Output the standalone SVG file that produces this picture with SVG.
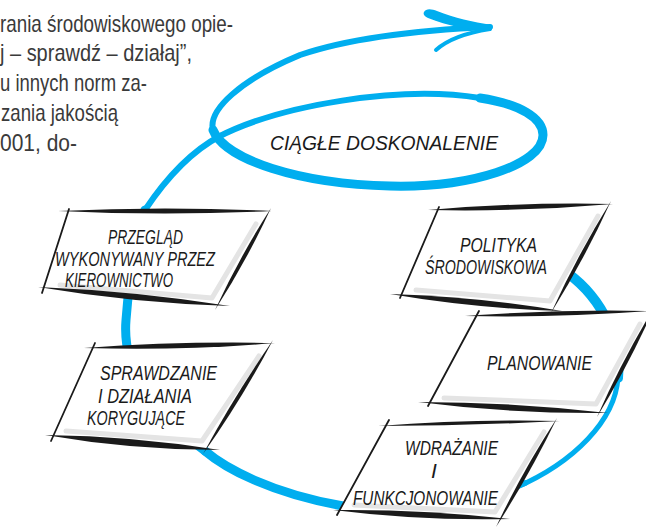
<svg xmlns="http://www.w3.org/2000/svg" width="646" height="527" viewBox="0 0 646 527">
<style>
.body{font-family:"Liberation Sans",Arial,sans-serif;font-size:24px;fill:#3a3a3a}
.lbl{font-family:"Liberation Sans",Arial,sans-serif;font-style:italic;font-size:21px;fill:#1a1a1a}
.blue{fill:none;stroke:#00aeef;stroke-linecap:round;stroke-linejoin:round}
.ink{fill:#1a1a1a}
.edge{fill:none;stroke:#1a1a1a;stroke-width:1.8;stroke-linecap:round}
.shade{fill:none;stroke:#e4e4e4;stroke-width:5;stroke-linejoin:round;stroke-linecap:round}
.card{fill:#fff}
</style>
<rect width="646" height="527" fill="#fff"/>
<g id="text-block">
<text class="body" x="0" y="32" textLength="233" lengthAdjust="spacingAndGlyphs">rania środowiskowego opie-</text>
<text class="body" x="0" y="61" textLength="192" lengthAdjust="spacingAndGlyphs">j – sprawdź – działaj”,</text>
<text class="body" x="0" y="91" textLength="147" lengthAdjust="spacingAndGlyphs">u innych norm za-</text>
<text class="body" x="1" y="121" textLength="117" lengthAdjust="spacingAndGlyphs">zania jakością</text>
<text class="body" x="0" y="151" textLength="77" lengthAdjust="spacingAndGlyphs">001, do-</text>
</g>
<g id="connectors">
<path class="blue" stroke-width="10" d="M560 268 C598 292 622 335 618 378"/>
<path class="blue" stroke-width="5" d="M618 378 C615 420 575 462 515 488"/>
<path class="blue" stroke-width="6" d="M525 483 C470 505 400 510 343 506"/>
<path class="blue" stroke-width="9" d="M343 506 C270 493 225 468 205 451"/>
<path class="blue" stroke-width="9" d="M205 451 C150 410 122 370 126 320 C130 270 135 240 145 210"/>
<path class="blue" stroke-width="6" d="M145 210 C165 180 190 152 220 136"/>
<path class="blue" stroke-width="6" d="M218 137 C280 105 400 85 480 98 C520 104 543 118 543 135 C543 165 470 188 390 186 C300 184 225 160 213 130 C208 110 240 80 300 55 C350 38 420 30 490 27"/>
<path class="blue" stroke-width="9" d="M480 98 C520 104 543 118 543 135 C543 165 470 188 390 186 C300 184 225 160 213 130"/>
<path fill="#00aeef" d="M424 12 C426 8 432 9 437 11 C455 18 472 22 492 25 L491 31 C468 30 448 26 428 18 C424 16 423 14 424 12 Z"/>
<path class="blue" stroke-width="4" d="M436 50 C447 40 465 33 490 29"/>
</g>
<g id="ciagle">
<text class="lbl" x="270" y="150" textLength="228" lengthAdjust="spacingAndGlyphs">CIĄGŁE DOSKONALENIE</text>
</g>
<g id="przeglad">
<polygon class="card" points="67,213 268,212 218,305 44,288"/>
<polyline class="shade" points="256,224 212,298 60,285"/>
<line class="edge" x1="69" y1="209" x2="42" y2="293"/>
<path class="ink" d="M58 211 Q165 216 272 211 Q165 206 58 211Z"/>
<path class="ink" d="M271 208 Q246.5 261 215 310 Q239.5 257 271 208Z"/>
<path class="ink" d="M38 287 Q133.4 303 230 306 Q134.6 291 38 287Z"/>
<text class="lbl" x="108" y="244" textLength="75" lengthAdjust="spacingAndGlyphs">PRZEGLĄD</text>
<text class="lbl" x="55" y="266" textLength="160" lengthAdjust="spacingAndGlyphs">WYKONYWANY PRZEZ</text>
<text class="lbl" x="65" y="287" textLength="108" lengthAdjust="spacingAndGlyphs">KIEROWNICTWO</text>
</g>
<g id="polityka">
<polygon class="card" points="437,212 609,205 554,309 402,294"/>
<polyline class="shade" points="598,216 550,301 416,290"/>
<line class="edge" x1="439" y1="207" x2="400" y2="298"/>
<path class="ink" d="M428 210 Q520.7 212 613 204 Q520.3 202 428 210Z"/>
<path class="ink" d="M611 201 Q584.5 259 551 313 Q577.5 255 611 201Z"/>
<path class="ink" d="M390 294 Q475.4 308.5 562 311 Q476.6 296.5 390 294Z"/>
<text class="lbl" x="460" y="252" textLength="77" lengthAdjust="spacingAndGlyphs">POLITYKA</text>
<text class="lbl" x="425" y="274" textLength="122" lengthAdjust="spacingAndGlyphs">ŚRODOWISKOWA</text>
</g>
<g id="sprawdzanie">
<polygon class="card" points="92,348 271,344 206,449 53,436"/>
<polyline class="shade" points="259,356 202,441 66,431"/>
<line class="edge" x1="95" y1="343" x2="51" y2="441"/>
<path class="ink" d="M84 348 Q180 351 275 343 Q180 341 84 348Z"/>
<path class="ink" d="M273 340 Q242 399 203 454 Q235 395 273 340Z"/>
<path class="ink" d="M45 435 Q132 450 220 450 Q133 436 45 435Z"/>
<text class="lbl" x="100" y="380" textLength="117" lengthAdjust="spacingAndGlyphs">SPRAWDZANIE</text>
<text class="lbl" x="98" y="403" textLength="94" lengthAdjust="spacingAndGlyphs">I DZIAŁANIA</text>
<text class="lbl" x="87" y="425" textLength="98" lengthAdjust="spacingAndGlyphs">KORYGUJĄCE</text>
</g>
<g id="planowanie">
<polygon class="card" points="476,316 652,312 600,412 430,402"/>
<polyline class="shade" points="640,324 596,404 444,398"/>
<line class="edge" x1="479" y1="311" x2="428" y2="406"/>
<path class="ink" d="M465 316 Q558 318 650 311 Q558 309 465 316Z"/>
<path class="ink" d="M655 306 Q629.5 363.5 597 417 Q622.5 359.5 655 306Z"/>
<path class="ink" d="M418 402 Q512 414 608 413 Q514 402 418 402Z"/>
<text class="lbl" x="487" y="370" textLength="105" lengthAdjust="spacingAndGlyphs">PLANOWANIE</text>
</g>
<g id="wdrazanie">
<polygon class="card" points="386,425 555,422 499,520 340,510"/>
<polyline class="shade" points="544,432 495,512 354,505"/>
<line class="edge" x1="389" y1="420" x2="337" y2="515"/>
<path class="ink" d="M378 426 Q469 426 560 421 Q469 419 378 426Z"/>
<path class="ink" d="M557 418 Q530 474 496 527 Q523 470 557 418Z"/>
<path class="ink" d="M333 510 Q421 521 510 519 Q422 509 333 510Z"/>
<text class="lbl" x="405" y="455" textLength="93" lengthAdjust="spacingAndGlyphs">WDRAŻANIE</text>
<text class="lbl" x="431" y="478">I</text>
<text class="lbl" x="353" y="505" textLength="145" lengthAdjust="spacingAndGlyphs">FUNKCJONOWANIE</text>
</g>
</svg>
